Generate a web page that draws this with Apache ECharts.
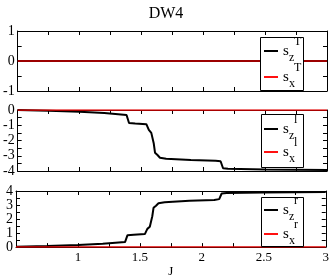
<!DOCTYPE html>
<html><head><meta charset="utf-8">
<script src="https://cdn.jsdelivr.net/npm/echarts@6/dist/echarts.min.js"></script>
<style>html,body{margin:0;padding:0;background:#fff}#c{width:332px;height:279px}</style>
</head><body><div id="c"></div>
<script>
const J_T = [0.5, 3.0];
const szT = [0, 0];
const sxT = [0, 0];
const J_l = [0.5, 0.75, 1.0, 1.2, 1.38, 1.40, 1.45, 1.54, 1.56, 1.58, 1.60, 1.61, 1.63, 1.65, 1.70, 1.90, 2.10, 2.14, 2.16, 2.20, 2.50, 3.0];
const szl = [0, -0.05, -0.11, -0.2, -0.33, -0.85, -0.88, -0.93, -1.3, -1.5, -2.2, -2.8, -2.95, -3.13, -3.2, -3.28, -3.33, -3.36, -3.82, -3.86, -3.9, -3.93];
const sxl = [0, 0];
const J_r = [0.5, 0.75, 1.0, 1.2, 1.38, 1.40, 1.45, 1.54, 1.56, 1.58, 1.60, 1.61, 1.63, 1.65, 1.70, 1.90, 2.10, 2.14, 2.16, 2.20, 2.50, 3.0];
const szr = [0.02, 0.07, 0.15, 0.24, 0.36, 0.85, 0.88, 0.93, 1.3, 1.45, 2.2, 2.8, 2.95, 3.13, 3.2, 3.3, 3.36, 3.42, 3.82, 3.86, 3.9, 3.93];
const sxr = [0, 0];
const xTicks = ['1', '1.5', '2', '2.5', '3'];
const title = 'DW4';

const pairs = (xs, ys) => ys.map((v, i) => [xs.length === ys.length ? xs[i] : J_T[i], v]);
const FONT = 'Liberation Serif';
const grids = [
  {left: 16, right: 5, top: 31, height: 60},
  {left: 16, right: 5, top: 110, height: 61},
  {left: 16, right: 5, top: 191, height: 60}
];
const yr = [[-1, 1], [-4, 0], [0, 4]];
const xAxis = [], yAxis = [];
grids.forEach((g, i) => {
  const base = {type: 'value', gridIndex: i, min: 0.5, max: 3, interval: 0.5,
    axisLine: {show: true, onZero: false, lineStyle: {color: '#000', width: 1}},
    axisTick: {show: true, inside: true, length: 4, lineStyle: {color: '#000'}},
    minorTick: {show: true, splitNumber: 2, length: 4, lineStyle: {color: '#000'}},
    splitLine: {show: false}};
  xAxis.push(Object.assign({}, base, {position: 'bottom',
    axisLabel: {show: i === 2, color: '#000', fontFamily: FONT, fontSize: 13, margin: 4,
      formatter: v => { const s = String(v); return xTicks.indexOf(s) >= 0 ? s : ''; }},
    name: i === 2 ? 'J' : '', nameLocation: 'middle', nameGap: 17,
    nameTextStyle: {color: '#000', fontFamily: FONT, fontSize: 13}}));
  xAxis.push(Object.assign({}, base, {position: 'top', axisLabel: {show: false}}));
  const yb = {type: 'value', gridIndex: i, min: yr[i][0], max: yr[i][1], interval: 1,
    axisLine: {show: true, onZero: false, lineStyle: {color: '#000', width: 1}},
    axisTick: {show: true, inside: true, length: 4, lineStyle: {color: '#000'}},
    minorTick: {show: true, splitNumber: 2, length: 4, lineStyle: {color: '#000'}},
    splitLine: {show: false}};
  yAxis.push(Object.assign({}, yb, {position: 'left',
    axisLabel: {show: true, color: '#000', fontFamily: FONT, fontSize: 14, margin: 3}}));
  yAxis.push(Object.assign({}, yb, {position: 'right', axisLabel: {show: false}}));
});
const line = (data, gi, color, w, z) => ({type: 'line', xAxisIndex: gi * 2, yAxisIndex: gi * 2,
  data, symbol: 'none', lineStyle: {color, width: w}, z, animation: false, silent: true});
const series = [
  line(pairs(J_T, szT), 0, '#000', 2, 2),
  line(pairs(J_T, sxT), 0, '#d00000', 1.5, 3),
  line(pairs(J_l, szl), 1, '#000', 2, 2),
  line(pairs(J_T, sxl), 1, '#e00000', 1.5, 3),
  line(pairs(J_r, szr), 2, '#000', 2, 2),
  line(pairs(J_T, sxr), 2, '#e00000', 1.5, 3)
];
const legends = [
  {box: [260, 37, 43, 53], ly: [51, 77], sup: 'T', sub2: 'x'},
  {box: [261, 114, 42, 53], ly: [129, 152], sup: 'l', sub2: 'x'},
  {box: [261, 197, 42, 49], ly: [210, 234], sup: 'r', sub2: 'x'}
];
const graphic = [];
legends.forEach(L => {
  graphic.push({type: 'rect', shape: {x: L.box[0] + 0.5, y: L.box[1] + 0.5, width: L.box[2], height: L.box[3]},
    style: {fill: '#fff', stroke: '#000', lineWidth: 1}, z: 100});
  const colors = ['#000', '#ff1010'];
  const subs = ['z', L.sub2];
  L.ly.forEach((y, k) => {
    graphic.push({type: 'line', shape: {x1: 264, y1: y, x2: 278, y2: y}, style: {stroke: colors[k], lineWidth: 2}, z: 101});
    graphic.push({type: 'text', x: 283, y: y, style: {text: 's', font: '15px ' + FONT, fill: '#000', textVerticalAlign: 'middle'}, z: 101});
    graphic.push({type: 'text', x: 289, y: y + 7, style: {text: subs[k], font: '12px ' + FONT, fill: '#000', textVerticalAlign: 'middle'}, z: 101});
    graphic.push({type: 'text', x: 294, y: y - 9, style: {text: L.sup, font: '12px ' + FONT, fill: '#000', textVerticalAlign: 'middle'}, z: 101});
  });
});
const chart = echarts.init(document.getElementById('c'), null, {renderer: 'canvas'});
chart.setOption({
  animation: false,
  backgroundColor: '#fff',
  title: {text: title, left: 'center', top: 1, textStyle: {color: '#000', fontFamily: FONT, fontSize: 16, fontWeight: 'normal'}},
  grid: grids,
  xAxis, yAxis, series, graphic
});
</script></body></html>
